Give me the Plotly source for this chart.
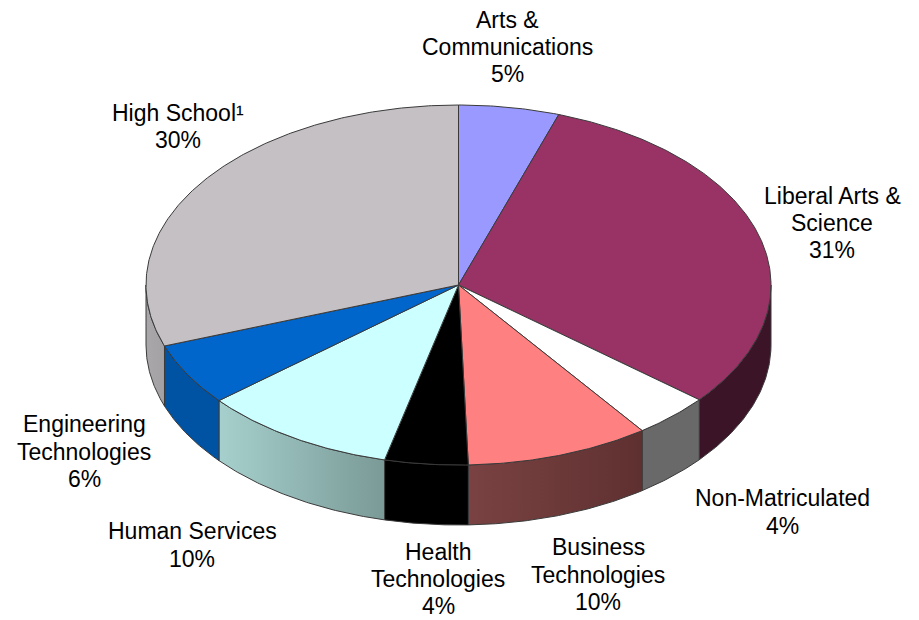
import numpy as np
import plotly.graph_objects as go

categories = ["Arts &<br>Communications", "Liberal Arts &<br>Science", "Non-Matriculated",
              "Business<br>Technologies", "Health<br>Technologies", "Human Services",
              "Engineering<br>Technologies", "High School¹"]
shares = [5.2, 30.8, 4.0, 9.5, 4.3, 10.1, 5.6, 30.5]
shown_percent = [5, 31, 4, 10, 4, 10, 6, 30]

top_colors = ["#9999ff", "#993366", "#ffffff", "#ff8080", "#000000", "#ccffff", "#0066cc", "#c4c0c4"]
side_left = ["#6b6b99", "#3c1428", "#696969", "#7a4242", "#000000", "#a6d0cd", "#0052a3", "#aaa7aa"]
side_right = ["#6b6b99", "#3c1428", "#696969", "#5f3030", "#000000", "#7a9a97", "#0052a3", "#a4a1a4"]
label_centers = [(507, 47), (832, 223), (782, 512), (598, 574.5), (438, 579), (192, 545), (84, 451.5), (177.5, 126.5)]

CX, CY, RX, RY, DEPTH = 458.5, 285.0, 312.5, 180.0, 60.0
EDGE = "#3a3a3a"
LINE_PITCH = 27.3
FONT = dict(family="Liberation Sans, Arial, sans-serif", size=23, color="#000000")


def rim(t0, t1):
    n = max(2, int(abs(t1 - t0) / 0.5) + 2)
    t = np.radians(np.linspace(t0, t1, n))
    return CX + RX * np.sin(t), CY - RY * np.cos(t)


edges = np.concatenate([[0], np.cumsum(shares)]) / np.sum(shares) * 360
fig = go.Figure()

# Side walls: only the front half of the rim (90..270 degrees) is visible
for i in range(len(shares)):
    a, b = max(edges[i], 90), min(edges[i + 1], 270)
    if a >= b:
        continue
    x, y = rim(a, b)
    px = np.concatenate([x, x[::-1], x[:1]])
    py = np.concatenate([y, y[::-1] + DEPTH, y[:1]])
    fig.add_trace(go.Scatter(
        x=px, y=py, mode="lines", fill="toself",
        fillgradient=dict(type="horizontal",
                          colorscale=[[0, side_left[i]], [1, side_right[i]]]),
        line=dict(color=EDGE, width=1), hoverinfo="skip", showlegend=False))

# Top faces
for i in range(len(shares)):
    x, y = rim(edges[i], edges[i + 1])
    px = np.concatenate([[CX], x, [CX]])
    py = np.concatenate([[CY], y, [CY]])
    fig.add_trace(go.Scatter(
        x=px, y=py, mode="lines", fill="toself", fillcolor=top_colors[i],
        line=dict(color=EDGE, width=1), name=categories[i].replace("<br>", " "),
        hovertemplate="%{fullData.name}: " + str(shown_percent[i]) + "%<extra></extra>",
        showlegend=False))

for name, pct, (lx, ly) in zip(categories, shown_percent, label_centers):
    lines = name.split("<br>") + [f"{pct}%"]
    for k, line in enumerate(lines):
        fig.add_annotation(x=lx, y=ly + (k - (len(lines) - 1) / 2) * LINE_PITCH,
                           xref="x", yref="y", text=line,
                           showarrow=False, font=FONT, align="center",
                           xanchor="center", yanchor="middle")

fig.update_layout(
    width=919, height=620, margin=dict(l=0, r=0, t=0, b=0),
    paper_bgcolor="#ffffff", plot_bgcolor="#ffffff",
    xaxis=dict(range=[0, 919], visible=False, fixedrange=True),
    yaxis=dict(range=[620, 0], visible=False, fixedrange=True),
)
fig.write_html("out.html", post_script="document.body.style.margin='0';",
               config=dict(displayModeBar=False))
